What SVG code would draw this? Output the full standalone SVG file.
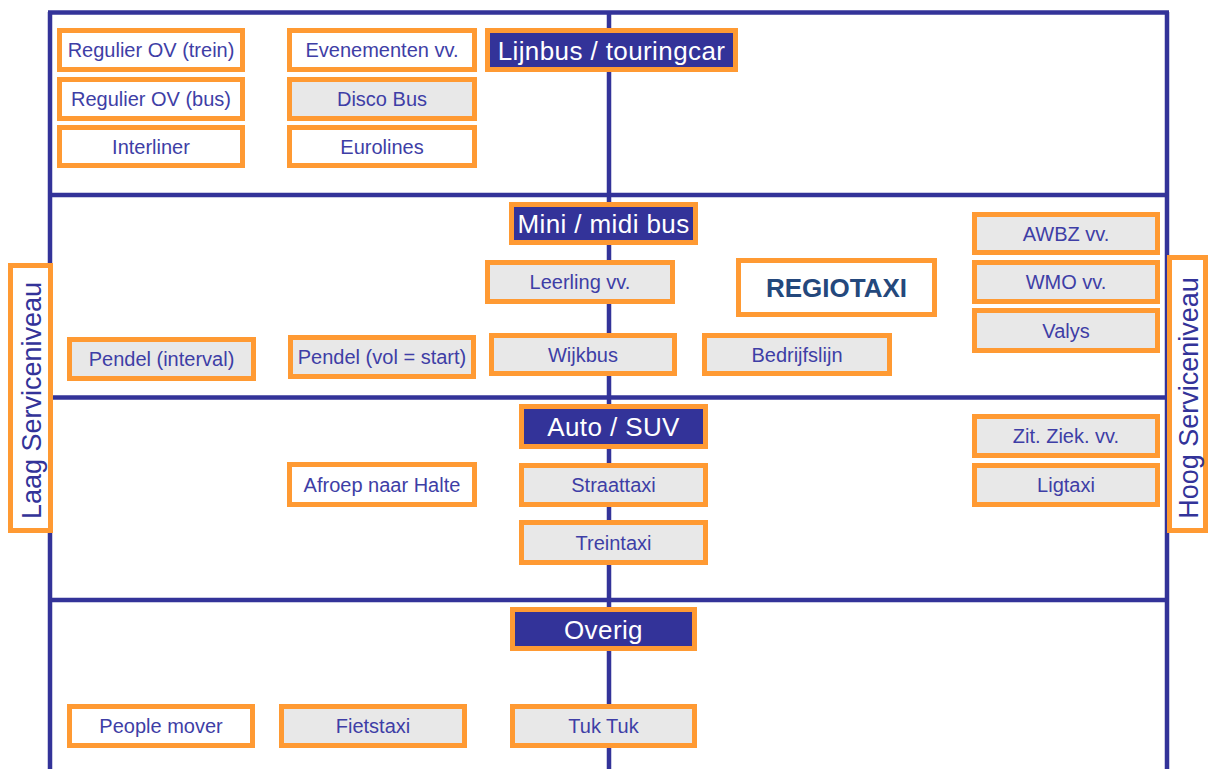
<svg xmlns="http://www.w3.org/2000/svg" width="1212" height="769" viewBox="0 0 1212 769">
  <style>
    .grid line { stroke: #333399; stroke-width: 4.5; }
    .box { stroke: #FF9A33; stroke-width: 5; }
    .w { fill: #FFFFFF; }
    .g { fill: #E8E8E8; }
    .n { fill: #333399; }
    text { font-family: "Liberation Sans", Arial, sans-serif; text-anchor: middle; }
    .t { font-size: 20px; fill: #3E3EA6; }
    .h { font-size: 26px; fill: #FFFFFF; letter-spacing: 0.4px; }
    .big { font-size: 26px; font-weight: bold; fill: #24487C; }
    .side { font-size: 27px; fill: #333399; }
  </style>

  <!-- quadrant grid -->
  <g id="grid" class="grid">
    <line x1="48" y1="12.5" x2="1169" y2="12.5"/>
    <line x1="50" y1="12" x2="50" y2="769"/>
    <line x1="1167" y1="12" x2="1167" y2="769"/>
    <line x1="609" y1="12" x2="609" y2="769"/>
    <line x1="50" y1="195" x2="1167" y2="195"/>
    <line x1="50" y1="397.5" x2="1167" y2="397.5"/>
    <line x1="50" y1="600" x2="1167" y2="600"/>
  </g>

  <!-- row 1: lijnbus / touringcar -->
  <g id="regulier-trein"><rect class="box w" x="59.5" y="30.5" width="183" height="39"/><text class="t" x="151" y="57">Regulier OV (trein)</text></g>
  <g id="regulier-bus"><rect class="box w" x="59.5" y="79.5" width="183" height="39"/><text class="t" x="151" y="106">Regulier OV (bus)</text></g>
  <g id="interliner"><rect class="box w" x="59.5" y="127.5" width="183" height="38"/><text class="t" x="151" y="153.5">Interliner</text></g>
  <g id="evenementen"><rect class="box w" x="289.5" y="30.5" width="185" height="39"/><text class="t" x="382" y="57">Evenementen vv.</text></g>
  <g id="disco-bus"><rect class="box g" x="289.5" y="79.5" width="185" height="39"/><text class="t" x="382" y="106">Disco Bus</text></g>
  <g id="eurolines"><rect class="box w" x="289.5" y="127.5" width="185" height="38"/><text class="t" x="382" y="153.5">Eurolines</text></g>
  <g id="lijnbus"><rect class="box n" x="487.5" y="30.5" width="248" height="39"/><text class="h" x="611.5" y="59.5">Lijnbus / touringcar</text></g>

  <!-- row 2: mini / midi bus -->
  <g id="mini-midi"><rect class="box n" x="511.5" y="204.5" width="184" height="38"/><text class="h" x="603.5" y="233">Mini / midi bus</text></g>
  <g id="leerling"><rect class="box g" x="487.5" y="262.5" width="185" height="39"/><text class="t" x="580" y="289">Leerling vv.</text></g>
  <g id="regiotaxi"><rect class="box w" x="738.5" y="260.5" width="196" height="54"/><text class="big" x="836.5" y="297">REGIOTAXI</text></g>
  <g id="wijkbus"><rect class="box g" x="491.5" y="335.5" width="183" height="38"/><text class="t" x="583" y="361.5">Wijkbus</text></g>
  <g id="bedrijfslijn"><rect class="box g" x="704.5" y="335.5" width="185" height="38"/><text class="t" x="797" y="361.5">Bedrijfslijn</text></g>
  <g id="awbz"><rect class="box g" x="974.5" y="214.5" width="183" height="38"/><text class="t" x="1066" y="240.5">AWBZ vv.</text></g>
  <g id="wmo"><rect class="box g" x="974.5" y="262.5" width="183" height="39"/><text class="t" x="1066" y="289">WMO vv.</text></g>
  <g id="valys"><rect class="box g" x="974.5" y="310.5" width="183" height="40"/><text class="t" x="1066" y="337.5">Valys</text></g>
  <g id="pendel-interval"><rect class="box g" x="69.5" y="339.5" width="184" height="39"/><text class="t" x="161.5" y="366">Pendel (interval)</text></g>
  <g id="pendel-vol"><rect class="box g" x="290.5" y="337.5" width="183" height="39"/><text class="t" x="382" y="364">Pendel (vol = start)</text></g>

  <!-- row 3: auto / SUV -->
  <g id="auto-suv"><rect class="box n" x="521.5" y="406.5" width="184" height="40"/><text class="h" x="613.5" y="436">Auto / SUV</text></g>
  <g id="afroep"><rect class="box w" x="289.5" y="464.5" width="185" height="40"/><text class="t" x="382" y="491.5">Afroep naar Halte</text></g>
  <g id="straattaxi"><rect class="box g" x="521.5" y="465.5" width="184" height="39"/><text class="t" x="613.5" y="492">Straattaxi</text></g>
  <g id="treintaxi"><rect class="box g" x="521.5" y="522.5" width="184" height="40"/><text class="t" x="613.5" y="549.5">Treintaxi</text></g>
  <g id="zit-ziek"><rect class="box g" x="974.5" y="416.5" width="183" height="39"/><text class="t" x="1066" y="443">Zit. Ziek. vv.</text></g>
  <g id="ligtaxi"><rect class="box g" x="974.5" y="465.5" width="183" height="39"/><text class="t" x="1066" y="492">Ligtaxi</text></g>

  <!-- row 4: overig -->
  <g id="overig"><rect class="box n" x="512.5" y="609.5" width="182" height="39"/><text class="h" x="603.5" y="638.5">Overig</text></g>
  <g id="people-mover"><rect class="box w" x="69.5" y="706.5" width="183" height="39"/><text class="t" x="161" y="733">People mover</text></g>
  <g id="fietstaxi"><rect class="box g" x="281.5" y="706.5" width="183" height="39"/><text class="t" x="373" y="733">Fietstaxi</text></g>
  <g id="tuk-tuk"><rect class="box g" x="512.5" y="706.5" width="182" height="39"/><text class="t" x="603.5" y="733">Tuk Tuk</text></g>

  <!-- service level axis labels -->
  <g id="laag"><rect class="box w" x="10.5" y="265.5" width="40" height="265"/><text class="side" transform="translate(40.5 400.5) rotate(-90)">Laag Serviceniveau</text></g>
  <g id="hoog"><rect class="box w" x="1169.5" y="257.5" width="36" height="273"/><text class="side" transform="translate(1197.5 398) rotate(-90)">Hoog Serviceniveau</text></g>
</svg>
